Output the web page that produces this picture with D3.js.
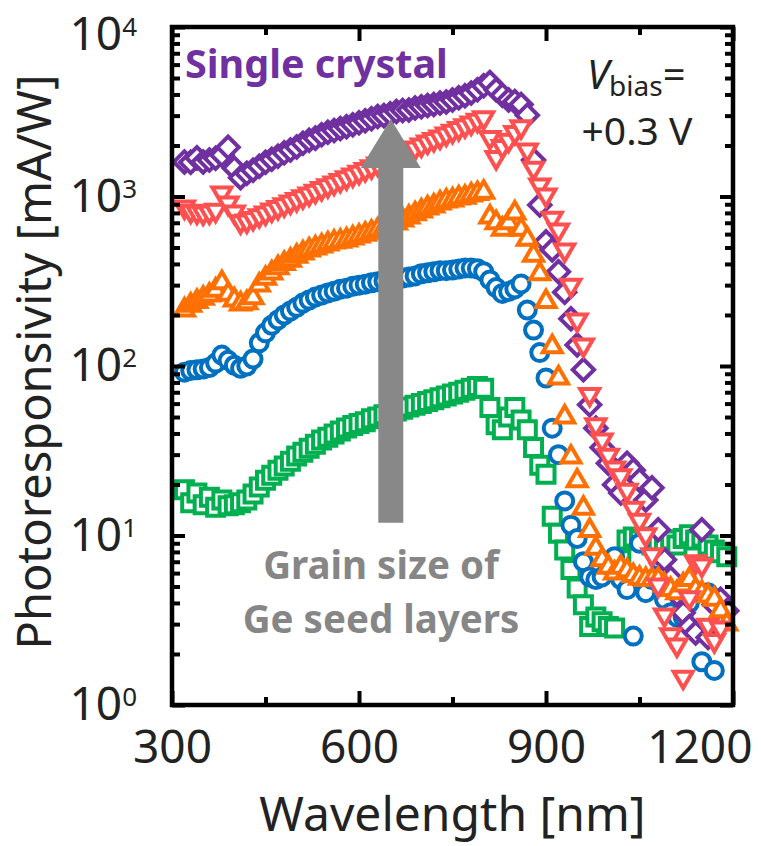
<!DOCTYPE html>
<html>
<head>
<meta charset="utf-8">
<script src="https://cdn.jsdelivr.net/npm/d3@7"></script>
<style>
  body { margin: 0; background: #fff; }
  svg { display: block; }
</style>
</head>
<body>
<svg id="chart" width="761" height="846"></svg>
<script>
// ---------------- DATA ----------------
const wavelength = [
  320,330,340,350,360,370,380,390,400,410,
  420,430,440,450,460,470,480,490,500,510,
  520,530,540,550,560,570,580,590,600,610,
  620,630,640,650,660,670,680,690,700,710,
  720,730,740,750,760,770,780,790,800,810,
  820,830,840,850,860,870,880,890,900,910,
  920,930,940,950,960,970,980,990,1000,1010,
  1020,1030,1040,1050,1060,1070,1080,1090,1100,1110,
  1120,1130,1140,1150,1160,1170,1180,1190
];

// Single crystal (purple diamonds)
const singleCrystal = [
  1600,1590,1690,1600,1640,1680,1760,1950,1470,1290,
  1370,1430,1510,1590,1660,1730,1810,1880,1960,2060,
  2150,2210,2310,2390,2450,2520,2580,2650,2720,2800,
  2880,2960,3000,3080,3170,3220,3240,3330,3380,3440,
  3490,3560,3610,3710,3820,3930,4080,4260,4500,4700,
  4260,3960,3710,3630,3490,3020,1640,890,540,484,
  360,272,190,133,95,59,43,33,26.7,19.9,
  17.8,26.7,24.3,21.2,16.2,19.1,10.8,7.2,5.6,4.5,
  3.5,2.9,2.66,10.8,2.5,3.9,4.2,3.6
];

// Red down-triangles
const seriesRed = [
  867,820,810,800,810,830,1050,915,810,710,
  717,743,771,799,832,861,894,928,961,997,
  1035,1075,1115,1156,1202,1245,1291,1339,1390,1443,
  1497,1555,1611,1675,1734,1806,1867,1932,2013,2098,
  2168,2244,2339,2426,2517,2614,2716,2814,2917,2230,
  1700,1970,2150,2390,2580,1880,1470,1170,1020,745,
  634,484,300,187,133,68,45,36.6,29.8,25,
  22.5,18.5,14.5,12.3,10.1,7.7,5.1,3.4,2.6,2.26,
  1.46,4.3,7.0,6.7,2.96,2.4,2.85,null
];

// Orange up-triangles
const seriesOrange = [
  214,228,240,251,262,280,310,265,245,232,
  236,253,300,329,354,380,402,421,444,464,
  484,497,510,524,538,545,554,569,584,599,
  615,634,650,668,697,727,756,790,821,855,
  878,915,940,953,980,990,1020,1040,1060,757,
  700,640,700,800,640,560,450,350,240,130,
  85,50,29,21,14.5,10.7,8.4,7.2,6.5,6.0,
  6.5,6.2,5.8,5.6,5.5,5.5,5.5,5.1,4.8,4.6,
  5.1,5.5,4.8,4.6,4.4,4.2,3.6,3.0
];

// Blue circles
const seriesBlue = [
  92,94,95,96,98,104,116,108,101,97,
  100,110,137,157,174,187,200,211,222,235,
  245,255,262,270,276,284,288,295,300,304,
  310,314,318,322,326,330,335,340,350,355,
  360,365,365,368,373,378,378,375,360,322,
  290,268,275,285,305,214,163,120,85,43,
  30,16,11.5,9.6,7.0,5.7,5.5,5.7,6.7,7.5,
  5.5,4.8,2.55,9.0,4.6,5.5,7.2,4.2,3.5,3.3,
  3.3,4.0,null,1.8,4.6,1.6,null,null
];

// Green squares
const seriesGreen = [
  18.6,15.6,17.8,15.2,16.8,14.7,16.2,15.0,15.2,15.6,
  16.2,17.6,19.3,21.2,22.7,24.3,25.7,27.4,29.4,31,
  32.7,34.5,36.6,38,39.7,41.4,43.1,44.6,45.8,46.9,
  48.9,50,51.5,52.8,54.3,55.6,57.2,58.6,60.1,61.7,
  63.3,64.9,66.6,68.3,70.1,71.9,73.8,75.7,73.8,57,
  45,42,50,57,48,42,33,26,23,13,
  10.3,8.2,6.3,4.9,3.9,2.9,3.3,3.1,2.9,2.85,
  7.2,9.4,9.8,9.4,9.8,8.8,9.0,8.6,9.4,8.8,
  9.6,10.1,9.4,9.8,8.8,8.2,7.9,7.5
];

const xTicks = [300, 600, 900, 1200];
const xMinorTicks = [450, 750, 1050];
const yTicks = [1, 10, 100, 1000, 10000];
const yMinorTicks = [2,3,4,5,6,7,8,9,20,30,40,50,60,70,80,90,200,300,400,500,600,700,800,900,2000,3000,4000,5000,6000,7000,8000,9000];

// arrow annotation (data coords)
const arrowWavelength = 651;
const arrowTop = 2870;
const arrowBottom = 11.9;

// ---------------- CHART ----------------
const svg = d3.select("#chart");
const pLeft = 172, pRight = 733, pTop = 27, pBottom = 705;
const x = d3.scaleLinear().domain([300, 1200]).range([pLeft, pRight]);
const y = d3.scaleLog().domain([1, 1e4]).range([pBottom, pTop]);

const FONT = "'Noto Sans', 'Open Sans', sans-serif";
const TXT = "#222";

const series = [
  { name: "green",  values: seriesGreen,   color: "#00B050", shape: "square" },
  { name: "blue",   values: seriesBlue,    color: "#0070C0", shape: "circle" },
  { name: "purple", values: singleCrystal, color: "#7030A0", shape: "diamond" },
  { name: "orange", values: seriesOrange,  color: "#FF7000", shape: "up" },
  { name: "red",    values: seriesRed,     color: "#FF5050", shape: "down" }
];

const symbolFor = {
  square:  { type: d3.symbolSquare,   size: 289, rot: 0 },
  circle:  { type: d3.symbolCircle,   size: Math.PI * 8.5 * 8.5, rot: 0 },
  diamond: { type: d3.symbolSquare,   size: 228, rot: 45 },
  up:      { type: d3.symbolTriangle, size: 156, rot: 0 },
  down:    { type: d3.symbolTriangle, size: 156, rot: 180 }
};

const marks = svg.append("g");
series.forEach(s => {
  const sym = symbolFor[s.shape];
  const pts = wavelength.map((w, i) => ({ w, v: s.values[i] })).filter(d => d.v != null);
  marks.append("g")
    .selectAll("path")
    .data(pts)
    .join("path")
    .attr("d", d3.symbol().type(sym.type).size(sym.size))
    .attr("transform", d => `translate(${x(d.w)},${y(d.v)}) rotate(${sym.rot})`)
    .attr("fill", "#fff")
    .attr("stroke", s.color)
    .attr("stroke-width", 4);
});

// Arrow
const ax = x(arrowWavelength);
const aTop = y(arrowTop), aBot = y(arrowBottom);
const shaftHalf = 12.5, headHalf = 30, headLen = 49;
svg.append("path")
  .attr("d", `M${ax},${aTop} L${ax + headHalf},${aTop + headLen} L${ax + shaftHalf},${aTop + headLen} L${ax + shaftHalf},${aBot} L${ax - shaftHalf},${aBot} L${ax - shaftHalf},${aTop + headLen} L${ax - headHalf},${aTop + headLen} Z`)
  .attr("fill", "#888888");

// Axes
function styleAxis(g) {
  g.select(".domain").remove();
  g.selectAll(".tick line").attr("stroke", "#000").attr("stroke-width", 4);
  g.attr("font-family", FONT).attr("font-size", 46).attr("color", TXT);
}

const gx = svg.append("g").attr("transform", `translate(0,${pBottom})`)
  .call(d3.axisBottom(x).tickValues(xTicks).tickSize(-14).tickPadding(25).tickFormat(d3.format("d")))
  .call(styleAxis);
// last label kept inside the window, as in the reference
gx.selectAll(".tick text").filter(d => d === 1200)
  .attr("text-anchor", "end").attr("x", 19);

svg.append("g").attr("transform", `translate(0,${pBottom})`)
  .call(d3.axisBottom(x).tickValues(xMinorTicks).tickSize(-8).tickFormat(""))
  .call(styleAxis);
svg.append("g").attr("transform", `translate(0,${pTop})`)
  .call(d3.axisTop(x).tickValues(xTicks).tickSize(-14).tickFormat(""))
  .call(styleAxis);
svg.append("g").attr("transform", `translate(0,${pTop})`)
  .call(d3.axisTop(x).tickValues(xMinorTicks).tickSize(-8).tickFormat(""))
  .call(styleAxis);

const gy = svg.append("g").attr("transform", `translate(${pLeft},0)`)
  .call(d3.axisLeft(y).tickValues(yTicks).tickSize(-13).tickPadding(35).tickFormat(() => ""))
  .call(styleAxis);
gy.selectAll(".tick text").each(function(d) {
  const t = d3.select(this);
  if (d === 10000) t.attr("dy", "0.48em");
  t.append("tspan").text("10");
  t.append("tspan").attr("dy", -14).attr("font-size", 26).text(Math.round(Math.log10(d)));
});
svg.append("g").attr("transform", `translate(${pLeft},0)`)
  .call(d3.axisLeft(y).tickValues(yMinorTicks).tickSize(-8).tickFormat(""))
  .call(styleAxis);
svg.append("g").attr("transform", `translate(${pRight},0)`)
  .call(d3.axisRight(y).tickValues(yTicks).tickSize(-13).tickFormat(""))
  .call(styleAxis);
svg.append("g").attr("transform", `translate(${pRight},0)`)
  .call(d3.axisRight(y).tickValues(yMinorTicks).tickSize(-8).tickFormat(""))
  .call(styleAxis);

// Frame
svg.append("rect")
  .attr("x", pLeft).attr("y", pTop)
  .attr("width", pRight - pLeft).attr("height", pBottom - pTop)
  .attr("fill", "none").attr("stroke", "#000").attr("stroke-width", 4.5);

// Axis titles
svg.append("text")
  .attr("transform", `translate(51,362) rotate(-90)`)
  .attr("text-anchor", "middle")
  .attr("font-family", FONT).attr("font-size", 47).attr("fill", TXT)
  .text("Photoresponsivity [mA/W]");
svg.append("text")
  .attr("x", (pLeft + pRight) / 2).attr("y", 831)
  .attr("text-anchor", "middle")
  .attr("font-family", FONT).attr("font-size", 48).attr("fill", TXT)
  .text("Wavelength [nm]");

// Annotations
svg.append("text")
  .attr("x", 185).attr("y", 78)
  .attr("font-family", FONT).attr("font-weight", "bold").attr("font-size", 39.5)
  .attr("fill", "#7030A0")
  .text("Single crystal");

const vb = svg.append("text")
  .attr("x", 587).attr("y", 89)
  .attr("font-family", FONT).attr("font-size", 40).attr("fill", TXT);
vb.append("tspan").attr("font-style", "italic").text("V");
vb.append("tspan").attr("font-size", 28).attr("dy", 7).text("bias");
vb.append("tspan").attr("dy", -7).text("=");
svg.append("text")
  .attr("x", 637).attr("y", 145).attr("text-anchor", "middle")
  .attr("font-family", FONT).attr("font-size", 39).attr("fill", TXT)
  .text("+0.3 V");

svg.append("text")
  .attr("x", 381).attr("y", 579).attr("text-anchor", "middle")
  .attr("font-family", FONT).attr("font-weight", "bold").attr("font-size", 38.5)
  .attr("fill", "#868686")
  .text("Grain size of");
svg.append("text")
  .attr("x", 381).attr("y", 633).attr("text-anchor", "middle")
  .attr("font-family", FONT).attr("font-weight", "bold").attr("font-size", 38.5)
  .attr("fill", "#868686")
  .text("Ge seed layers");
</script>
</body>
</html>
